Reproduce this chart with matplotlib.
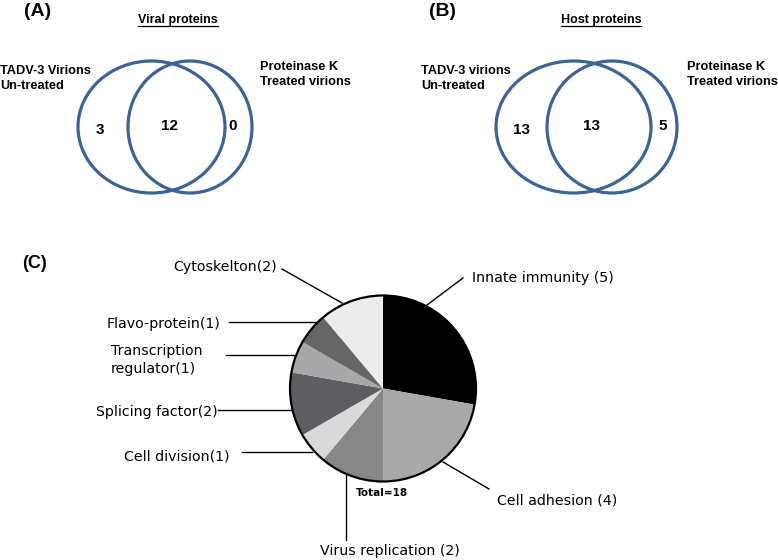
import matplotlib
matplotlib.use("Agg")
import matplotlib.pyplot as plt
from matplotlib.patches import Ellipse, Circle

# Venn counts: (only untreated, shared, only proteinase K treated)
viral_counts = [3, 12, 0]
host_counts = [13, 13, 5]
venn_titles = ["Viral proteins", "Host proteins"]
venn_left_labels = ["TADV-3 Virions\nUn-treated", "TADV-3 virions\nUn-treated"]
venn_right_label = "Proteinase K\nTreated virions"

# Pie chart of host protein functions (clockwise from 12 o'clock)
pie_categories = ["Innate immunity (5)", "Cell adhesion (4)", "Virus replication (2)",
                  "Cell division(1)", "Splicing factor(2)", "Transcription\nregulator(1)",
                  "Flavo-protein(1)", "Cytoskelton(2)"]
pie_counts = [5, 4, 2, 1, 2, 1, 1, 2]
pie_colors = ["#000000", "#a9a9a9", "#878787", "#dadada",
              "#5e5e62", "#a8a8a8", "#666666", "#ececec"]

W, H = 778, 560
fig = plt.figure(figsize=(W / 100, H / 100), dpi=100)
ax = fig.add_axes([0, 0, 1, 1])
ax.set_xlim(0, W)
ax.set_ylim(H, 0)
ax.axis("off")

venn_color = "#3b6394"
bold = dict(family=["Liberation Sans", "DejaVu Sans"], fontweight="bold")


def draw_venn(counts, title, left_label, panel, layout):
    (lx, lw), (rx, rw), cy, hgt = layout["ellipses"]
    ax.add_patch(Ellipse((lx, cy), lw, hgt, fill=False, ec=venn_color, lw=2.3))
    ax.add_patch(Ellipse((rx, cy), rw, hgt, fill=False, ec=venn_color, lw=2.3))
    px, py = layout["panel"]
    ax.text(px, py, panel, ha="center", va="center", fontsize=14, **bold)
    tx, ty = layout["title"]
    t = ax.text(tx, ty, title, ha="center", va="center", fontsize=9, **bold)
    fig.canvas.draw()
    bb = t.get_window_extent().transformed(ax.transData.inverted())
    ax.plot([bb.x0, bb.x1], [ty + 5.5, ty + 5.5], color="black", lw=0.9)
    ax.text(*layout["left_label"], left_label, ha="left", va="top",
            fontsize=9.2, linespacing=1.35, **bold)
    ax.text(*layout["right_label"], venn_right_label, ha="left", va="top",
            fontsize=9.2, linespacing=1.35, **bold)
    for (nx, ny), n in zip(layout["numbers"], counts):
        ax.text(nx, ny, str(n), ha="center", va="center", fontsize=11, **bold)


draw_venn(viral_counts, venn_titles[0], venn_left_labels[0], "(A)", {
    "ellipses": ((151.5, 147), (190, 124), 127, 132),
    "panel": (38, 11), "title": (178, 20),
    "left_label": (0, 65), "right_label": (260, 61),
    "numbers": [(100, 130), (170, 126), (233, 126)],
})
draw_venn(host_counts, venn_titles[1], venn_left_labels[1], "(B)", {
    "ellipses": ((573.5, 155), (612, 130), 127, 132),
    "panel": (443, 11), "title": (601, 20),
    "left_label": (421, 65), "right_label": (687, 61),
    "numbers": [(522, 130), (592, 126), (663, 126)],
})

ax.text(35, 263, "(C)", ha="center", va="center", fontsize=13, **bold)

# pie in its own axes, radius 93 px centred at (383, 388.5)
cx, cy, r = 383, 388.5, 93
box = 2.5 * r
pax = fig.add_axes([(cx - box / 2) / W, (H - cy - box / 2) / H, box / W, box / H])
pax.pie(pie_counts, colors=pie_colors, startangle=90, counterclock=False,
        radius=1, wedgeprops=dict(linewidth=0))
pax.add_patch(Circle((0, 0), 1, fill=False, ec="black", lw=1.6))
pax.set_xlim(-1.25, 1.25)
pax.set_ylim(-1.25, 1.25)
pax.axis("off")

lab_font = dict(family=["DejaVu Sans"], fontsize=10.2, color="black")
# text anchor (x, y, ha) and leader line for each category
label_layout = [
    ((472, 278, "left"), [(427, 305), (463, 278)]),
    ((497, 500, "left"), [(443, 462), (489, 489)]),
    ((390, 551, "center"), [(346, 474), (346, 540)]),
    ((230, 457, "right"), [(242, 452), (312, 452)]),
    ((218, 412, "right"), [(218, 410), (291, 410)]),
    ((111, 360, "left"), [(226, 355), (295, 355)]),
    ((220, 324, "right"), [(229, 322), (318, 322)]),
    ((277, 267, "right"), [(282, 269), (342, 303)]),
]
for name, ((x, y, ha), line) in zip(pie_categories, label_layout):
    ax.text(x, y, name, ha=ha, va="center", linespacing=1.45, **lab_font)
    ax.plot([p[0] for p in line], [p[1] for p in line], color="black", lw=1.0)

ax.text(382, 493, "Total=%d" % sum(pie_counts), ha="center", va="center",
        family=["DejaVu Sans"], fontweight="bold", fontsize=7.5)

fig.savefig("out.png", dpi=100)
